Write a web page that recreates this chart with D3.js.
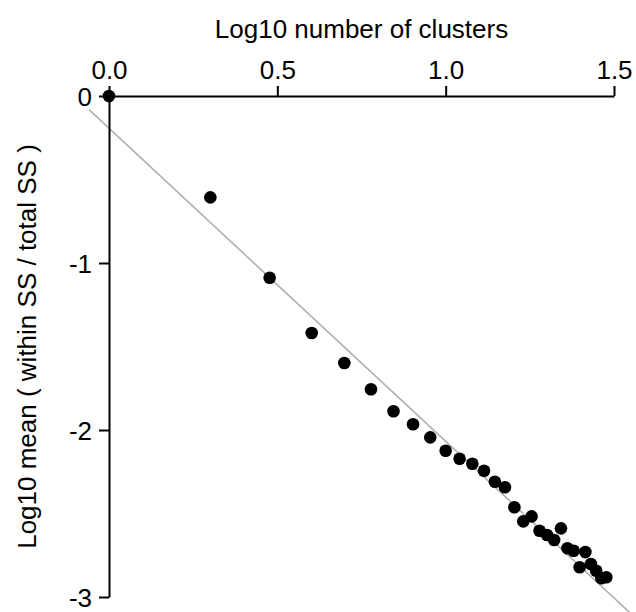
<!DOCTYPE html>
<html>
<head>
<meta charset="utf-8">
<script src="https://cdn.jsdelivr.net/npm/d3@7"></script>
<style>
  body { margin: 0; background: #fff; }
  text { font-family: "Liberation Sans", Arial, sans-serif; fill: #000; }
</style>
</head>
<body>
<div id="chart"></div>
<script>
// number of clusters k = 1..30
var clusters = [1,2,3,4,5,6,7,8,9,10,11,12,13,14,15,16,17,18,19,20,21,22,23,24,25,26,27,28,29,30];
// log10 mean(within SS / total SS)
var logRatio = [0, -0.607, -1.088, -1.419, -1.599, -1.756, -1.888, -1.966, -2.044, -2.124,
  -2.172, -2.202, -2.244, -2.310, -2.343, -2.463, -2.547, -2.517, -2.603, -2.629,
  -2.659, -2.589, -2.708, -2.723, -2.822, -2.731, -2.802, -2.843, -2.888, -2.882];
var xTicks = [0, 0.5, 1.0, 1.5];
var yTicks = [0, -1, -2, -3];
// fitted line: intercept, slope
var fit = [-0.193, -1.875];

var svgWidth = 636, svgHeight = 612;
var fontSize = 26;

var svg = d3.select("#chart").append("svg")
    .attr("width", svgWidth).attr("height", svgHeight);

var x = d3.scaleLinear().domain([0, 1.5]).range([109, 614]);
var y = d3.scaleLinear().domain([0, -3]).range([96, 597]);

// clip for the fitted line (plot region)
svg.append("clipPath").attr("id", "plotClip")
  .append("rect").attr("x", 89).attr("y", 60).attr("width", 600).attr("height", 600);

var xLo = x.invert(80), xHi = x.invert(660);
svg.append("line")
    .attr("clip-path", "url(#plotClip)")
    .attr("x1", x(xLo)).attr("y1", y(fit[0] + fit[1]*xLo))
    .attr("x2", x(xHi)).attr("y2", y(fit[0] + fit[1]*xHi))
    .attr("stroke", "#b0b0b0")
    .attr("stroke-width", 1.6);

// axes
var xAxis = svg.append("g").attr("transform", "translate(0,96)")
    .call(d3.axisTop(x).tickValues(xTicks).tickSize(10).tickSizeOuter(0)
      .tickFormat(function(d) { return d.toFixed(1); }));
var yAxis = svg.append("g").attr("transform", "translate(109,0)")
    .call(d3.axisLeft(y).tickValues(yTicks).tickSize(10).tickSizeOuter(0)
      .tickFormat(function(d) { return String(d); }));

[xAxis, yAxis].forEach(function(g) {
  g.attr("font-family", null).attr("font-size", null);
  g.select(".domain").attr("stroke", "#000").attr("stroke-width", 2);
  g.selectAll(".tick line").attr("stroke", "#000").attr("stroke-width", 2);
  g.selectAll(".tick text").attr("font-size", fontSize).attr("fill", "#000");
});
xAxis.selectAll(".tick text").attr("y", -17).attr("dy", 0);
yAxis.selectAll(".tick text").attr("x", -17).attr("dy", "0.35em");

// points
svg.selectAll("circle.pt")
  .data(clusters)
  .enter().append("circle")
    .attr("class", "pt")
    .attr("cx", function(k) { return x(Math.log10(k)); })
    .attr("cy", function(k, i) { return y(logRatio[i]); })
    .attr("r", 6.3)
    .attr("fill", "#000");

// titles
svg.append("text")
    .attr("x", (109+614)/2)
    .attr("y", 37.5)
    .attr("text-anchor", "middle")
    .attr("font-size", fontSize)
    .text("Log10 number of clusters");

svg.append("text")
    .attr("transform", "translate(36," + ((96+597)/2) + ") rotate(-90)")
    .attr("text-anchor", "middle")
    .attr("font-size", fontSize)
    .text("Log10 mean ( within SS / total SS )");
</script>
</body>
</html>
